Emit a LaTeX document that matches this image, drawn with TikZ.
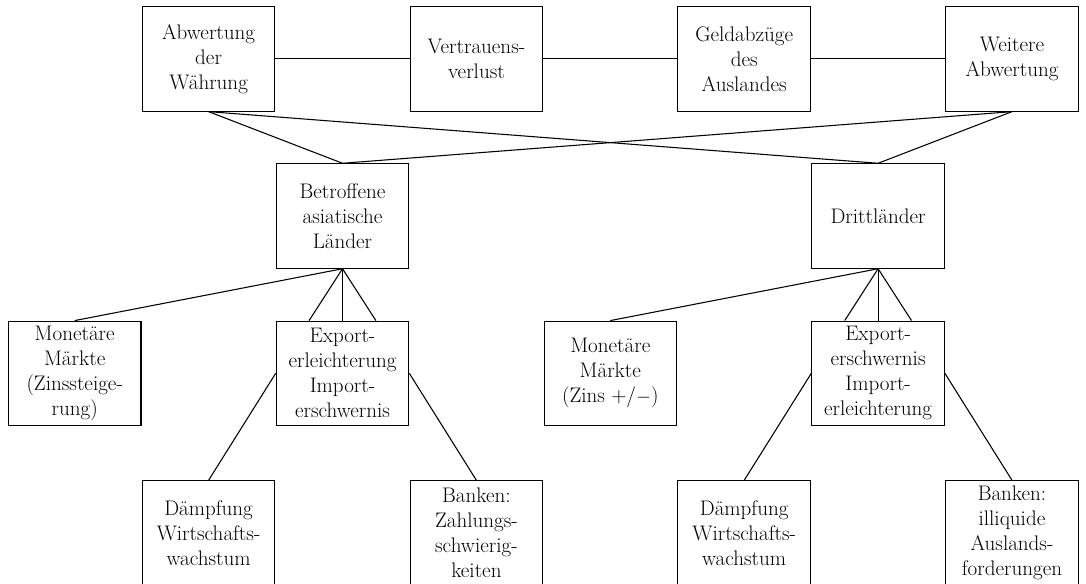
\documentclass[tikz,border=0pt]{standalone}
\usetikzlibrary{calc}
\begin{document}
\begin{tikzpicture}[x=0.75pt,y=-0.75pt,
  box/.style={draw,line width=0.8pt,minimum width=99.4pt,minimum height=78.3pt,
    inner sep=0pt,align=center,font=\fontsize{15.8}{18.8}\selectfont},
  conn/.style={line width=0.8pt}]
\useasboundingbox (0,0) rectangle (1086,583);
\clip (0,0) rectangle (1086,583);
\def\ca{74.7}\def\cb{208.6}\def\cc{342.5}\def\cd{476.4}
\def\ce{610.3}\def\cf{744.2}\def\cg{878.1}\def\ch{1012}
\def\ra{58.9}\def\rb{216}\def\rc{373.3}\def\rd{533}
% top row
\node[box] (a) at (\cb,\ra) {Abwertung\\der\\Währung};
\node[box] (v) at (\cd,\ra) {Vertrauens-\\verlust};
\node[box] (g) at (\cf,\ra) {Geldabzüge\\des\\Auslandes};
\node[box] (w) at (\ch,\ra) {Weitere\\Abwertung};
% second row
\node[box] (b) at (\cc,\rb) {Betroffene\\asiatische\\Länder};
\node[box] (d) at (\cg,\rb) {Drittländer};
% third row
\node[box] (m1) at (\ca,\rc) {Monetäre\\Märkte\\(Zinssteige-\\rung)};
\node[box] (e1) at (\cc,\rc) {Export-\\erleichterung\\Import-\\erschwernis};
\node[box] (m2) at (\ce,\rc) {Monetäre\\Märkte\\(Zins +/$-$)};
\node[box] (e2) at (\cg,\rc) {Export-\\erschwernis\\Import-\\erleichterung};
% fourth row (bottom edges fall outside the picture)
\node[box] (p1) at (\cb,\rd) {Dämpfung\\Wirtschafts-\\wachstum};
\node[box] (k1) at (\cd,\rd) {Banken:\\Zahlungs-\\schwierig-\\keiten};
\node[box] (p2) at (\cf,\rd) {Dämpfung\\Wirtschafts-\\wachstum};
\node[box] (k2) at (\ch,\rd) {Banken:\\illiquide\\Auslands-\\forderungen};
% connectors
\draw[conn] (a) -- (v);
\draw[conn] (v) -- (g);
\draw[conn] (g) -- (w);
\draw[conn] (a.south) -- (b.north);
\draw[conn] (a.south) -- (d.north);
\draw[conn] (w.south) -- (b.north);
\draw[conn] (w.south) -- (d.north);
\foreach \p/\e/\m/\q/\k in {b/e1/m1/p1/k1, d/e2/m2/p2/k2}{
  \draw[conn] (\p.south) -- (\m.north);
  \draw[conn] (\p.south) -- ($(\e.north west)!0.25!(\e.north east)$);
  \draw[conn] (\p.south) -- (\e.north);
  \draw[conn] (\p.south) -- ($(\e.north west)!0.75!(\e.north east)$);
  \draw[conn] (\e.west) -- (\q.north);
  \draw[conn] (\e.east) -- (\k.north);
}
\end{tikzpicture}
\end{document}
